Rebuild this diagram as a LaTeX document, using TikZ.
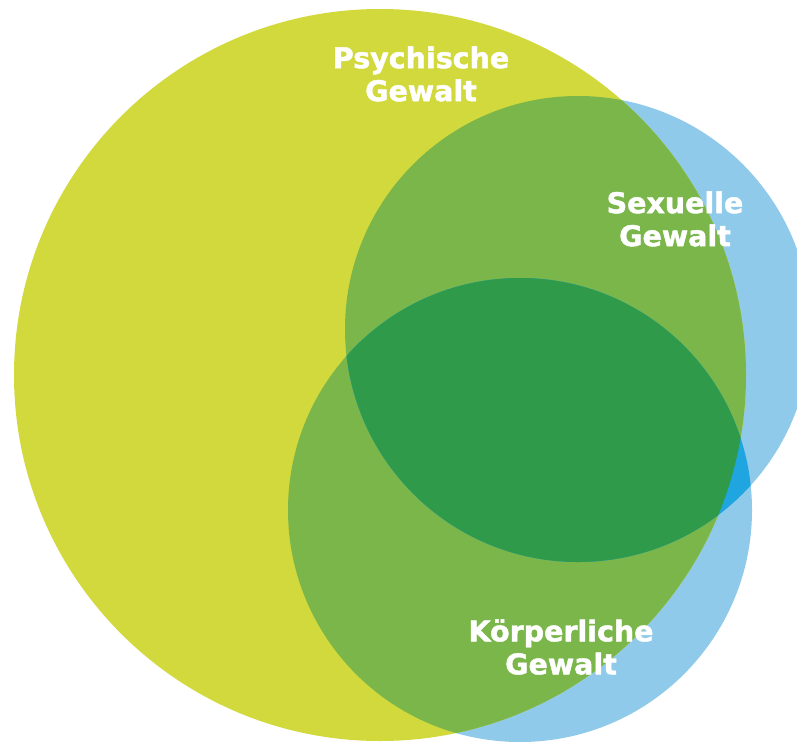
\documentclass[tikz,border=0pt]{standalone}
\usepackage{fontspec}
\setmainfont{DejaVu Sans}
\newfontfamily\heavyfont{DejaVu Sans Bold}[FakeBold=1.6]
\definecolor{cyellow}{HTML}{D2D93C}
\definecolor{cblue}{HTML}{8FCAEA}
\definecolor{cgreen}{HTML}{7AB64A}
\definecolor{cdark}{HTML}{2E9A4A}
\definecolor{cbright}{HTML}{1FA5DF}
\begin{document}
\begin{tikzpicture}[x=1pt,y=-1pt,
  lbl/.style={text=white,font=\heavyfont\fontsize{28.5}{33}\selectfont,align=center,inner sep=0pt}]
\fill[white] (0,0) rectangle (797,741);
\useasboundingbox (0,0) rectangle (797,741);
\clip (0,0) rectangle (797,741);
% light blue circles
\fill[cblue] (578,329) circle[radius=233];
\fill[cblue] (520,510) circle[radius=232];
% yellow circle
\fill[cyellow] (380,375) circle[radius=366];
% yellow + one blue
\begin{scope}
  \clip (380,375) circle[radius=366];
  \fill[cgreen] (578,329) circle[radius=233];
  \fill[cgreen] (520,510) circle[radius=232];
\end{scope}
% both blues
\begin{scope}
  \clip (578,329) circle[radius=233];
  \clip (520,510) circle[radius=232];
  \fill[cbright] (0,0) rectangle (797,741);
  \clip (380,375) circle[radius=366];
  \fill[cdark] (0,0) rectangle (797,741);
\end{scope}
\node[lbl] (psy) at (421,74) {Psychische\\Gewalt};
\node[lbl] (sex) at (675,219) {Sexuelle\\Gewalt};
\node[lbl] (koe) at (561,647) {Körperliche\\Gewalt};
\end{tikzpicture}
\end{document}
